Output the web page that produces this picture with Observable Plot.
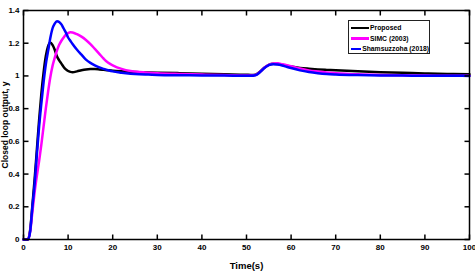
<!DOCTYPE html>
<html>
<head>
<meta charset="utf-8">
<script src="https://cdn.jsdelivr.net/npm/d3@7"></script>
<script src="https://cdn.jsdelivr.net/npm/@observablehq/plot@0.6"></script>
<style>
  html, body { margin: 0; padding: 0; background: #fff; }
  #wrap { position: relative; width: 475px; height: 271px; font-family: "Liberation Sans Narrow", "Liberation Sans", Arial, sans-serif; }
  #legend { position: absolute; left: 348px; top: 20px; width: 82px; height: 34px; border: 1px solid #222; background: #fff; box-sizing: border-box; padding-top: 1.5px; }
  .item { display: flex; align-items: center; height: 10.5px; font-size: 6.8px; font-weight: bold; color: #000; white-space: nowrap; }
  .swatch { width: 18px; height: 2.5px; margin: 0 1px 0 2px; }
</style>
</head>
<body>
<div id="wrap"><div id="legend"></div></div>
<script>
const seriesNames = ["Proposed", "SIMC (2003)", "Shamsuzzoha (2018)"];
const seriesColors = ["#000000", "#ff00ff", "#0000ff"];

const time = [0, 1, 1.5, 2, 2.5, 3, 3.5, 4, 4.5, 5, 5.5, 6, 6.5, 7, 7.5, 8, 8.5, 9, 9.5, 10, 10.5, 11, 12, 13, 14, 15, 16, 17, 18, 19, 20, 22, 24, 26, 28, 30, 35, 40, 45, 50, 51, 52, 53, 54, 55, 56, 57, 58, 59, 60, 62, 64, 66, 68, 70, 75, 80, 85, 90, 95, 100];

const proposed = [0, 0, 0.06, 0.21, 0.37, 0.55, 0.73, 0.89, 1.02, 1.12, 1.18, 1.205, 1.19, 1.16, 1.12, 1.095, 1.075, 1.055, 1.04, 1.03, 1.025, 1.023, 1.028, 1.035, 1.04, 1.042, 1.042, 1.04, 1.037, 1.034, 1.032, 1.028, 1.025, 1.023, 1.021, 1.02, 1.017, 1.013, 1.01, 1.007, 1.006, 1.008, 1.025, 1.05, 1.068, 1.075, 1.073, 1.068, 1.062, 1.057, 1.049, 1.044, 1.04, 1.037, 1.034, 1.028, 1.023, 1.019, 1.015, 1.012, 1.01];

const simc = [0, 0, 0.05, 0.17, 0.29, 0.39, 0.48, 0.58, 0.69, 0.8, 0.9, 0.99, 1.06, 1.11, 1.155, 1.19, 1.215, 1.235, 1.252, 1.262, 1.267, 1.266, 1.255, 1.24, 1.22, 1.195, 1.165, 1.135, 1.105, 1.08, 1.065, 1.043, 1.03, 1.024, 1.02, 1.017, 1.012, 1.008, 1.005, 1.003, 1.003, 1.006, 1.024, 1.05, 1.068, 1.076, 1.077, 1.072, 1.066, 1.06, 1.045, 1.034, 1.027, 1.021, 1.017, 1.01, 1.006, 1.004, 1.002, 1.001, 1.001];

const shamsuzzoha = [0, 0, 0.05, 0.2, 0.34, 0.52, 0.69, 0.83, 0.96, 1.07, 1.15, 1.23, 1.29, 1.32, 1.335, 1.33, 1.315, 1.29, 1.265, 1.235, 1.215, 1.195, 1.16, 1.13, 1.1, 1.08, 1.065, 1.052, 1.043, 1.035, 1.028, 1.02, 1.014, 1.01, 1.008, 1.006, 1.004, 1.003, 1.002, 1.001, 1.001, 1.004, 1.022, 1.048, 1.066, 1.072, 1.07, 1.064, 1.056, 1.048, 1.034, 1.024, 1.017, 1.012, 1.009, 1.005, 1.003, 1.002, 1.001, 1.001, 1.0];

const xTicks = [0, 10, 20, 30, 40, 50, 60, 70, 80, 90, 100];
const yTicks = [0, 0.2, 0.4, 0.6, 0.8, 1, 1.2, 1.4];
const xLabel = "Time(s)";
const yLabel = "Closed loop output, y";

const allSeries = [proposed, simc, shamsuzzoha];
const data = [];
allSeries.forEach((vals, si) => {
  vals.forEach((v, i) => data.push({t: time[i], y: v, s: seriesNames[si]}));
});

const W = 475, H = 271, mL = 23, mR = 6, mT = 10, mB = 32, tk = 5;
const xDom = [0, 100], yDom = [0, 1.4];
const tickRows = [
  ...xTicks.map(v => ({x: v, y1: yDom[0], y2: yDom[0] + tk / (H - mT - mB) * (yDom[1] - yDom[0])})),
  ...xTicks.map(v => ({x: v, y1: yDom[1], y2: yDom[1] - tk / (H - mT - mB) * (yDom[1] - yDom[0])}))
];
const tickCols = [
  ...yTicks.map(v => ({y: v, x1: xDom[0], x2: xDom[0] + tk / (W - mL - mR) * (xDom[1] - xDom[0])})),
  ...yTicks.map(v => ({y: v, x1: xDom[1], x2: xDom[1] - tk / (W - mL - mR) * (xDom[1] - xDom[0])}))
];

const fmt = d => String(+d.toFixed(1));

const chart = Plot.plot({
  width: W,
  height: H,
  marginLeft: mL,
  marginRight: mR,
  marginTop: mT,
  marginBottom: mB,
  style: {fontFamily: '"Liberation Sans Narrow", "Liberation Sans", Arial, sans-serif', fontSize: "8px", fontWeight: "bold", background: "#fff"},
  x: {domain: xDom},
  y: {domain: yDom},
  color: {domain: seriesNames, range: seriesColors},
  marks: [
    Plot.line(data, {x: "t", y: "y", z: "s", stroke: "s", strokeWidth: 2.5, curve: "monotone-x"}),
    Plot.link(tickRows, {x1: "x", x2: "x", y1: "y1", y2: "y2", stroke: "black", strokeWidth: 1.5}),
    Plot.link(tickCols, {y1: "y", y2: "y", x1: "x1", x2: "x2", stroke: "black", strokeWidth: 1.5}),
    Plot.frame({stroke: "black", strokeWidth: 1.5}),
    Plot.axisX({anchor: "bottom", ticks: xTicks, tickSize: 0, tickPadding: 5, tickFormat: fmt, label: null}),
    Plot.axisX({anchor: "bottom", ticks: [], tickSize: 0, label: xLabel, labelAnchor: "center", labelOffset: 29, labelArrow: "none", fontSize: 9.5}),
    Plot.axisY({anchor: "left", ticks: yTicks, tickSize: 0, tickPadding: 4, tickFormat: fmt, label: null}),
    Plot.axisY({anchor: "left", ticks: [], tickSize: 0, label: yLabel, labelAnchor: "center", labelOffset: 22, labelArrow: "none", fontSize: 8.5})
  ]
});
document.getElementById("wrap").prepend(chart);

const legend = document.getElementById("legend");
seriesNames.forEach((name, i) => {
  const item = document.createElement("div");
  item.className = "item";
  const sw = document.createElement("span");
  sw.className = "swatch";
  sw.style.background = seriesColors[i];
  const tx = document.createElement("span");
  tx.textContent = name;
  item.appendChild(sw);
  item.appendChild(tx);
  legend.appendChild(item);
});
</script>
</body>
</html>
